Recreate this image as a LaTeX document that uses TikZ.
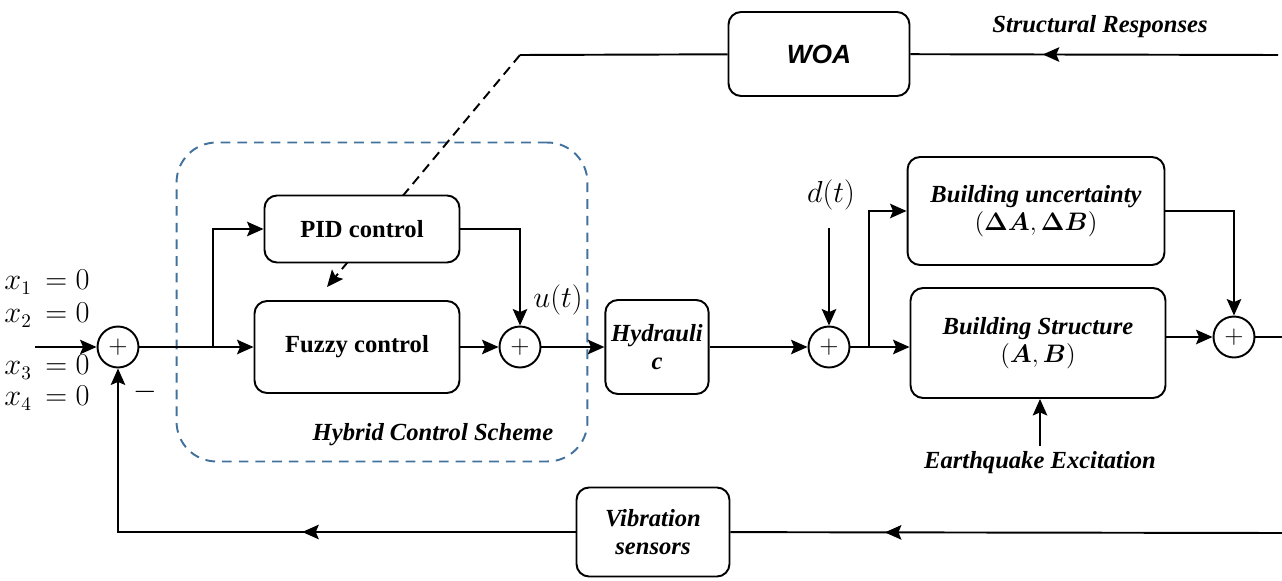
\documentclass[tikz,border=0pt]{standalone}
\usepackage{amsmath}
\usepackage{fontspec}
\setmainfont{Liberation Serif}
\newfontfamily\woafont{Liberation Sans}
\usetikzlibrary{arrows.meta, decorations.markings}
\definecolor{schemeblue}{RGB}{65,113,156}

\begin{document}
\begin{tikzpicture}[
    x=0.02cm, y=-0.02cm,
    >={Stealth[length=3.3mm, width=2.9mm, inset=0.6mm]},
    wire/.style={line width=1.1pt},
    block/.style={rectangle, rounded corners=0.25cm, draw=black, line width=1.1pt, fill=white, align=center, font=\fontsize{14}{16}\selectfont\bfseries\itshape},
    sum/.style={circle, draw=black, line width=1.1pt, fill=white, minimum size=0.82cm, inner sep=0pt, font=\fontsize{15}{17}\selectfont},
    textlabel/.style={font=\fontsize{14}{16}\selectfont\bfseries\itshape},
    mathlabel/.style={font=\fontsize{16}{18}\selectfont},
    biglabel/.style={font=\fontsize{18}{20}\selectfont},
    midarrow/.style={postaction={decorate}, decoration={markings, mark=at position #1 with {\arrow{>}}}}
    ]
    \useasboundingbox (0,0) rectangle (1282,581);

    %Coordinates
    \coordinate (xin) at (35,347);
    \coordinate (br1) at (213,347);
    \coordinate (din) at (829,228);
    \coordinate (br2) at (869,347);
    \coordinate (out) at (1282,337);
    \coordinate (srin) at (1278,55);
    \coordinate (wc) at (520,55);
    \coordinate (fz) at (327,287);
    \coordinate (fbin) at (1282,533);

    %Scheme box
    \node[draw=schemeblue, dash pattern=on 5.5pt off 4pt, rounded corners=0.8cm, minimum width=8.22cm, minimum height=6.38cm, line width=1.1pt] at (382,302) (hcs) {};
    \node[textlabel] at (433,435) (hcsl) {Hybrid Control Scheme};

    %Tuning line
    \draw[->, wire, dash pattern=on 5.5pt off 3.5pt] (wc) -- (fz);

    %Nodes
    \node[block, minimum width=3.9cm, minimum height=1.34cm] at (362,229) (pid) {\upshape PID control};
    \node[block, minimum width=4.1cm, minimum height=1.84cm] at (357,347) (fuzzy) {\upshape Fuzzy control};
    \node[block, minimum width=1.96cm, minimum height=1.88cm] at (657,347) (hyd) {Hydrauli\\c};
    \node[block, minimum width=5.14cm, minimum height=2.16cm] at (1036,211) (unc) {Building uncertainty\\$(\boldsymbol{\Delta A},\boldsymbol{\Delta B})$};
    \node[block, minimum width=5.1cm, minimum height=2.2cm] at (1038,343) (bs) {Building Structure\\$(\boldsymbol{A},\boldsymbol{B})$};
    \node[block, minimum width=3.62cm, minimum height=1.68cm, font=\fontsize{15}{18}\selectfont\woafont\bfseries\itshape] at (819,54) (woa) {WOA};
    \node[block, minimum width=3.06cm, minimum height=1.78cm] at (653,532) (vs) {Vibration\\sensors};

    \node[sum] at (118,347) (s1) {$+$};
    \node[sum] at (520,347) (s2) {$+$};
    \node[sum] at (829,347) (s3) {$+$};
    \node[sum] at (1234,337) (s4) {$+$};

    %Labels
    \node[mathlabel] at (47,282) (x1) {$x_1 \,= 0$};
    \node[mathlabel] at (47,315) (x2) {$x_2 \,= 0$};
    \node[mathlabel] at (47,367) (x3) {$x_3 \,= 0$};
    \node[mathlabel] at (47,398) (x4) {$x_4 \,= 0$};
    \node[mathlabel] at (145,392) (minus) {$-$};
    \node[biglabel] at (558,300) (ut) {$u(t)$};
    \node[biglabel] at (831,195) (dt) {$d(t)$};
    \node[textlabel] at (1100,27) (srl) {Structural Responses};
    \node[textlabel] at (1040,463) (eq) {Earthquake Excitation};

    %Lines
    \draw[->, wire] (xin) -- (s1);
    \draw[->, wire] (s1) -- (fuzzy);
    \draw[->, wire] (br1) |- (pid.west);
    \draw[->, wire] (pid.east) -| (s2.north);
    \draw[->, wire] (fuzzy) -- (s2);
    \draw[->, wire] (s2) -- (hyd);
    \draw[->, wire] (hyd) -- (s3);
    \draw[->, wire] (din) -- (s3);
    \draw[->, wire] (s3) -- (s3 -| bs.west);
    \draw[->, wire] (br2) |- (unc.west);
    \draw[->, wire] (unc.east) -| (s4.north);
    \draw[->, wire] (bs.east |- s4) -- (s4);
    \draw[wire] (s4) -- (out);
    \draw[->, wire] (eq.north) -- (eq.north |- bs.south);

    \draw[wire, midarrow=0.64] (srin) -- (woa);
    \draw[wire] (woa) -- (wc);
    \draw[wire, midarrow=0.72] (fbin) -- (vs);
    \draw[->, wire, midarrow=0.44] (vs) -| (s1);
\end{tikzpicture}
\end{document}
